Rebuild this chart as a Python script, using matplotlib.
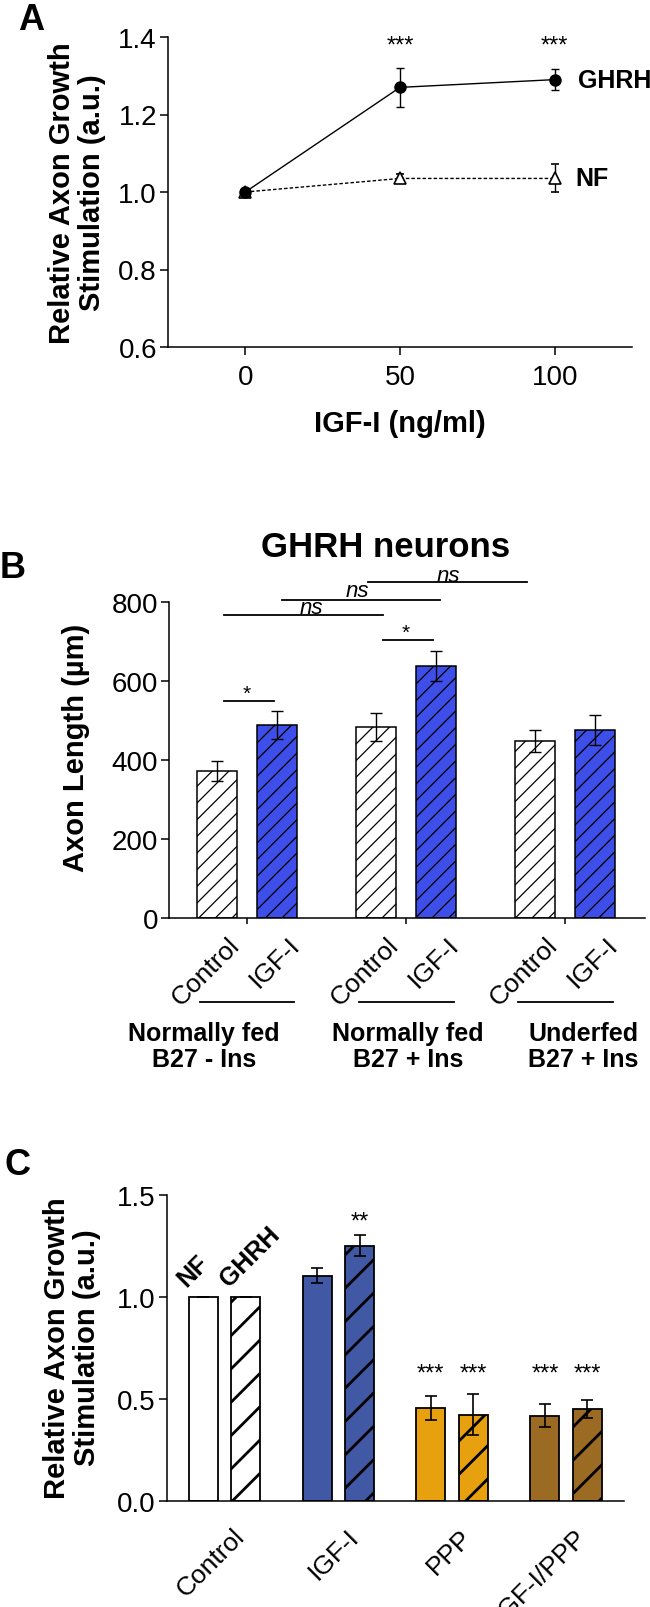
import matplotlib
matplotlib.use("Agg")
import matplotlib.pyplot as plt
import matplotlib.transforms as mtransforms
import numpy as np

# ---- data --------------------------------------------------------------
# Panel A: dose response
doses = [0, 50, 100]
ghrh_mean = [1.0, 1.27, 1.29]
ghrh_err = [0.0, 0.05, 0.027]
nf_mean = [1.0, 1.035, 1.035]
nf_err = [0.0, 0.012, 0.036]
a_stars = ["", "***", "***"]

# Panel B: GHRH neuron axon length
b_groups = ["Normally fed\nB27 - Ins", "Normally fed\nB27 + Ins", "Underfed\nB27 + Ins"]
b_treat = ["Control", "IGF-I"]
b_ctrl = [373, 484, 448]
b_ctrl_err = [25, 36, 27]
b_igf = [489, 637, 476]
b_igf_err = [36, 38, 37]

# Panel C: relative growth, NF vs GHRH
c_groups = ["Control", "IGF-I", "PPP", "IGF-I/PPP"]
c_nf = [1.0, 1.105, 0.456, 0.418]
c_nf_err = [0.0, 0.037, 0.057, 0.056]
c_ghrh = [1.0, 1.252, 0.424, 0.451]
c_ghrh_err = [0.0, 0.05, 0.10, 0.045]
c_nf_stars = ["", "", "***", "***"]
c_ghrh_stars = ["", "**", "***", "***"]
c_colors = ["white", "#4159A5", "#E8A10E", "#9B6B23"]

# ---- style -------------------------------------------------------------
SANS = ["Liberation Sans", "DejaVu Sans"]
plt.rcParams["font.family"] = SANS
plt.rcParams["axes.linewidth"] = 1.1

W, H = 650, 1608
fig = plt.figure(figsize=(W / 100, H / 100), dpi=100)


def px_axes(left, top, right, bottom):
    return fig.add_axes([left / W, 1 - bottom / H, (right - left) / W, (bottom - top) / H])


def style_axes(ax):
    for s in ("top", "right"):
        ax.spines[s].set_visible(False)
    ax.tick_params(direction="out", length=6, width=1.1, labelsize=20, pad=2)


def set_hatch_lw(patches, lw):
    for p in patches:
        if hasattr(p, "set_hatch_linewidth"):
            p.set_hatch_linewidth(lw)


# ---- panel A -----------------------------------------------------------
axA = px_axes(168, 38, 632, 348)
axA.errorbar(doses, nf_mean, yerr=nf_err, color="black", lw=1, ls=(0, (2.5, 1.5)),
             marker="^", mfc="white", mec="black", mew=1.2, ms=8,
             capsize=3, capthick=1, elinewidth=1)
axA.errorbar(doses, ghrh_mean, yerr=ghrh_err, color="black", lw=1,
             marker="o", mfc="black", mec="black", ms=8,
             capsize=3, capthick=1, elinewidth=1)
axA.set_xlim(-25, 125)
axA.set_ylim(0.6, 1.4)
axA.set_xticks(doses)
axA.set_yticks([0.6, 0.8, 1.0, 1.2, 1.4])
axA.set_yticklabels([f"{v:.1f}" for v in [0.6, 0.8, 1.0, 1.2, 1.4]])
style_axes(axA)
axA.tick_params(axis="x", pad=6)
for x, s in zip(doses, a_stars):
    if s:
        axA.text(x, 1.377, s, ha="center", va="center", fontsize=17)
axA.text(107.4, ghrh_mean[-1], "GHRH", ha="left", va="center", fontsize=18,
         fontweight="bold", clip_on=False)
axA.text(106.8, nf_mean[-1], "NF", ha="left", va="center", fontsize=18,
         fontweight="bold", clip_on=False)
fig.text(77 / W, 1 - 193 / H, "Relative Axon Growth\nStimulation (a.u.)", rotation=90,
         ha="center", va="center", fontsize=21, fontweight="bold", linespacing=1.1)
fig.text(400 / W, 1 - 424 / H, "IGF-I (ng/ml)", ha="center", va="center",
         fontsize=21, fontweight="bold")
fig.text(31 / W, 1 - 21 / H, "A", ha="center", va="center", fontsize=26, fontweight="bold")

# ---- panel B -----------------------------------------------------------
axB = px_axes(169, 603, 645, 919)
b_off = np.array([0, 2.65, 5.3])
bw = 0.667
plt.rcParams["hatch.linewidth"] = 0.9
barsC = axB.bar(b_off, b_ctrl, bw, yerr=b_ctrl_err, color="white", edgecolor="black",
                lw=1.1, hatch="//", capsize=4, error_kw=dict(elinewidth=1, capthick=1))
barsI = axB.bar(b_off + 1, b_igf, bw, yerr=b_igf_err, color="#3D4FE8", edgecolor="black",
                lw=1.1, hatch="//", capsize=4, error_kw=dict(elinewidth=1, capthick=1))
set_hatch_lw(list(barsC) + list(barsI), 0.9)
axB.set_xlim(-0.8, 7.13)
axB.set_ylim(0, 800)
axB.set_yticks([0, 200, 400, 600, 800])
axB.set_xticks(b_off + 0.5)
axB.set_xticklabels([])
style_axes(axB)
axB.tick_params(axis="x", length=4)

tB = mtransforms.blended_transform_factory(axB.transData, axB.transAxes)
b_text_x = [-0.22, 3.18, 6.1]
for g, x0 in enumerate(b_off):
    for k, lab in enumerate(b_treat):
        axB.text(x0 + k + 0.17, -0.045, lab, transform=tB, rotation=45, rotation_mode="anchor",
                 ha="right", va="top", fontsize=19)
    axB.plot([x0 + 0.5 - 0.79, x0 + 0.5 + 0.79], [-0.266, -0.266], transform=tB,
             color="black", lw=1.3, clip_on=False)
    axB.text(b_text_x[g], -0.405, b_groups[g], transform=tB, ha="center", va="center",
             fontsize=18, fontweight="bold", linespacing=1.1)

# significance brackets: (x start, x end, y, label, label x, label y)
b_sig = [
    (0.12, 0.95, 549, "*", 0.5, 570),
    (2.77, 3.60, 704, "*", 3.15, 724),
    (0.12, 2.77, 767, "ns", 1.57, 787),
    (1.08, 3.72, 805, "ns", 2.33, 830),
    (2.52, 5.16, 851, "ns", 3.85, 868),
]
for xs, xe, y, lab, lx, ly in b_sig:
    axB.plot([xs, xe], [y, y], color="black", lw=1.3, clip_on=False)
    if lab == "*":
        axB.text(lx, ly, lab, ha="center", va="center", fontsize=15, clip_on=False)
    else:
        axB.text(lx, ly, lab, ha="center", va="center", fontsize=16, style="italic",
                 clip_on=False)
axB.text(2.8, 1.177, "GHRH neurons", transform=tB, ha="center", va="center",
         fontsize=25, fontweight="bold")
fig.text(76 / W, 1 - 748 / H, "Axon Length (µm)", rotation=90, ha="center", va="center",
         fontsize=21, fontweight="bold")
fig.text(13 / W, 1 - 568 / H, "B", ha="center", va="center", fontsize=26, fontweight="bold")

# ---- panel C -----------------------------------------------------------
axC = px_axes(167, 1196, 624, 1502)
c_off = np.array([0, 2.68, 5.35, 8.04])
cw = 0.68
plt.rcParams["hatch.linewidth"] = 2.0
barsN = axC.bar(c_off, c_nf, cw, yerr=c_nf_err, color=c_colors, edgecolor="black",
                lw=1.3, capsize=4, error_kw=dict(elinewidth=1.2, capthick=1.2))
barsG = axC.bar(c_off + 1, c_ghrh, cw, yerr=c_ghrh_err, color=c_colors, edgecolor="black",
                lw=1.3, hatch="/", capsize=4, error_kw=dict(elinewidth=1.2, capthick=1.2))
set_hatch_lw(barsG, 2.0)
axC.set_xlim(-0.85, 9.9)
axC.set_ylim(0, 1.5)
axC.set_yticks([0, 0.5, 1.0, 1.5])
axC.set_yticklabels([f"{v:.1f}" for v in [0, 0.5, 1.0, 1.5]])
axC.set_xticks([])
style_axes(axC)

tC = mtransforms.blended_transform_factory(axC.transData, axC.transAxes)
for g, x0 in enumerate(c_off):
    axC.text(x0 + 0.5 + 0.19, -0.075, c_groups[g], transform=tC, rotation=45,
             rotation_mode="anchor", ha="right", va="top", fontsize=19)
    if c_nf_stars[g]:
        axC.text(x0, 0.627, c_nf_stars[g], ha="center", va="center", fontsize=17)
    if c_ghrh_stars[g]:
        y = 0.627 if c_ghrh_stars[g] == "***" else 1.369
        axC.text(x0 + 1, y, c_ghrh_stars[g], ha="center", va="center", fontsize=17)
axC.text(c_off[0] - 0.3, c_nf[0] + 0.03, "NF", rotation=45, rotation_mode="anchor",
         ha="left", va="bottom", fontsize=18, fontweight="bold")
axC.text(c_off[0] + 1 - 0.3, c_ghrh[0] + 0.03, "GHRH", rotation=45, rotation_mode="anchor",
         ha="left", va="bottom", fontsize=18, fontweight="bold")
fig.text(72 / W, 1 - 1348 / H, "Relative Axon Growth\nStimulation (a.u.)", rotation=90,
         ha="center", va="center", fontsize=21, fontweight="bold", linespacing=1.1)
fig.text(17 / W, 1 - 1166 / H, "C", ha="center", va="center", fontsize=26, fontweight="bold")

fig.savefig("out.png", dpi=100)
